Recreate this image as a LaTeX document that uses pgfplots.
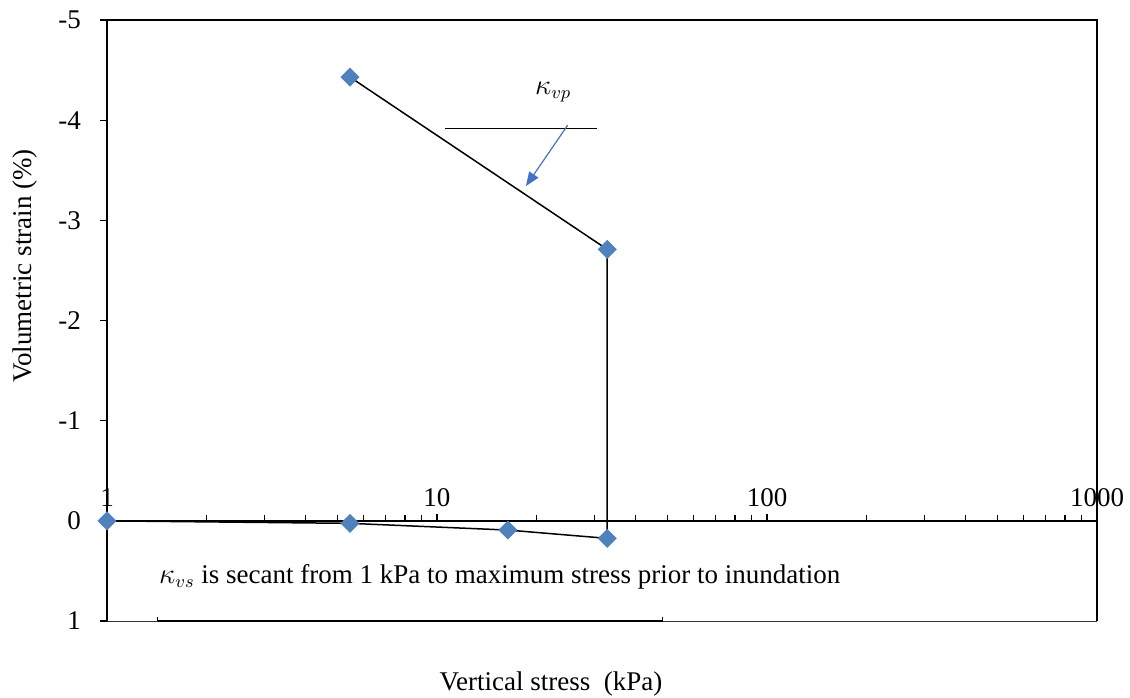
\documentclass[border=0pt]{standalone}
\usepackage{fontspec}
\setmainfont{Liberation Serif}
\usepackage{pgfplots}
\pgfplotsset{compat=1.18}
\usetikzlibrary{arrows.meta}
\definecolor{mk}{HTML}{4F81BD}
\definecolor{arr}{HTML}{4472C4}
\newcommand{\fs}{\fontsize{13.5}{16}\selectfont}
\begin{document}
\begin{tikzpicture}[x=1pt,y=1pt]
\useasboundingbox (0,0) rectangle (565,348.5);
\begin{axis}[
  at={(53.5pt,38pt)}, anchor=south west,
  scale only axis, width=495pt, height=300.5pt,
  xmode=log, xmin=1, xmax=1000,
  ymin=-5, ymax=1, y dir=reverse,
  axis x line=middle, axis y line=left,
  hide obscured x ticks=false,
  axis line style={-, line width=0.8pt},
  ytick={-5,-4,-3,-2,-1,0,1}, yticklabels={-5,-4,-3,-2,-1,0,1},
  ytick align=outside,
  xtick align=outside,
  major tick length=3.5pt, minor tick length=3pt,
  tick style={black, line width=0.6pt},
  xtick={1,10,100,1000}, xticklabels={1,10,100,1000},
  minor xtick={2,3,4,5,6,7,8,9,20,30,40,50,60,70,80,90,200,300,400,500,600,700,800,900},
  xticklabel style={font=\fs, anchor=south, yshift=7pt},
  yticklabel style={font=\fs, xshift=-6pt},
  clip=false,
]
\draw[line width=0.7pt] (rel axis cs:0,1) -- (rel axis cs:1,1) -- (rel axis cs:1,0);
\draw[line width=0.5pt, black!80] (rel axis cs:0,0) -- (rel axis cs:1,0);
\addplot[black, line width=0.75pt, mark=square*, mark size=3pt,
  mark options={rotate=45, fill=mk, draw=mk}] coordinates {
  (1,0) (5.45,0.025) (16.4,0.092) (32.8,0.175) (32.8,-2.71) (5.45,-4.43)
};
\draw[line width=0.5pt] (axis cs:10.57,-3.921) -- (axis cs:30.5,-3.921);
\draw[arr, line width=0.6pt, -{Triangle[length=7pt,width=5.5pt]}] (axis cs:24.9,-3.951) -- (axis cs:18.6,-3.342);
\node[font=\fs] at (axis cs:22.5,-4.28) {$\kappa_{vp}$};
\node[font=\fs] at (axis cs:15.5,0.561) {$\kappa_{vs}$ is secant from 1 kPa to maximum stress prior to inundation};
\draw[line width=1.4pt] (axis cs:1.427,1) -- (axis cs:48.4,1);
\draw[line width=0.5pt] (axis cs:1.427,1) -- ([yshift=2pt]axis cs:1.427,1);
\draw[line width=0.5pt] (axis cs:48.4,1) -- ([yshift=2pt]axis cs:48.4,1);
\end{axis}
\node[font=\fs, rotate=90] at (12.5,215.5) {Volumetric strain (\%)};
\node[font=\fs] at (275.5,6.5) {Vertical stress\ \ (kPa)};
\end{tikzpicture}
\end{document}
